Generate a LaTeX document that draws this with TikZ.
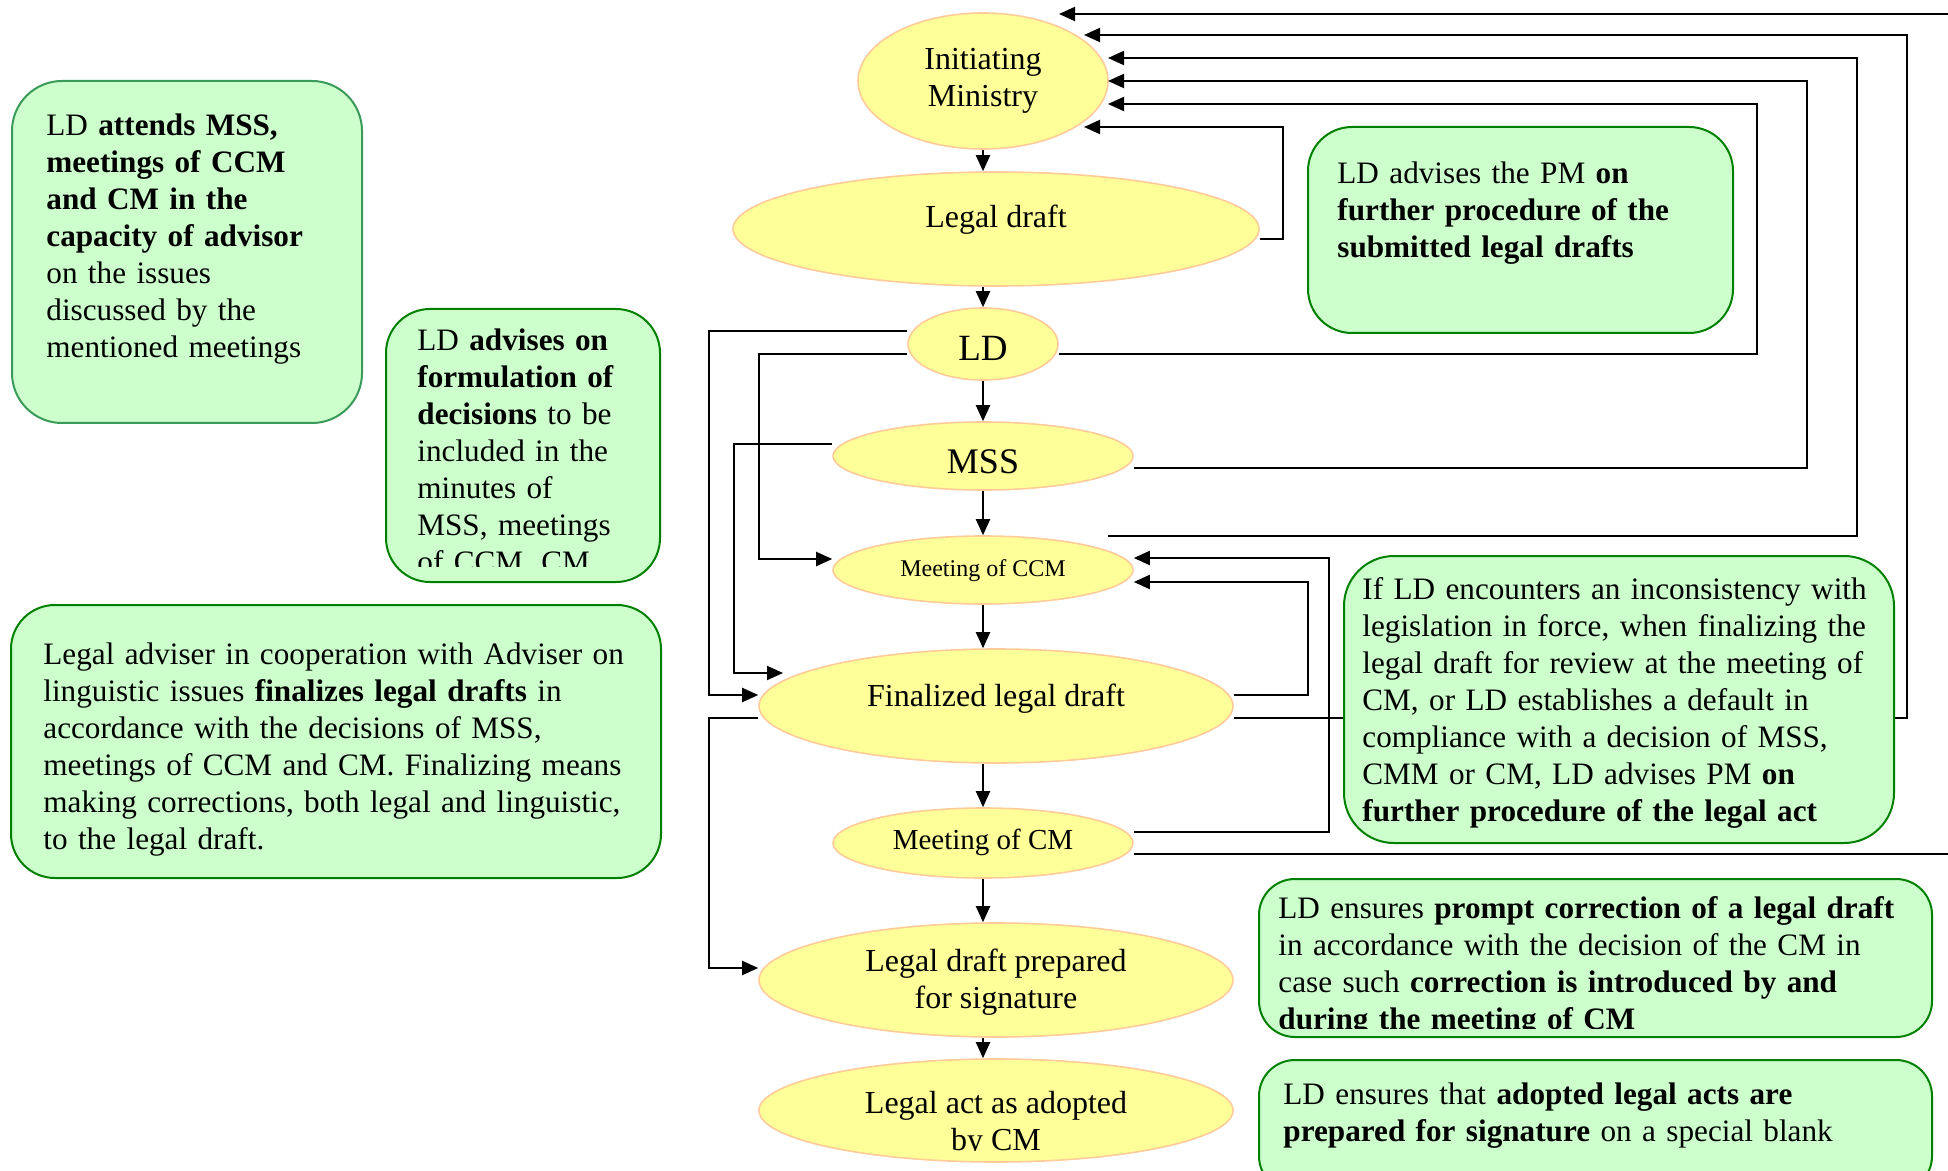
\documentclass[tikz,border=0pt]{standalone}
\usepackage{fontspec}
\setmainfont{Liberation Serif}
\usetikzlibrary{shapes.geometric,arrows.meta}
\definecolor{ellfill}{HTML}{FFFF99}
\definecolor{ellline}{HTML}{FFCC99}
\definecolor{notefill}{HTML}{CCFFCC}
\definecolor{noteline}{HTML}{008000}
\definecolor{notelinetwo}{HTML}{3A9A5A}
\newcommand\notefont{\fontsize{15.6}{18.5}\selectfont}
\newcommand\ellfont{\fontsize{16}{18.5}\selectfont}
\tikzset{
  ell/.style={ellipse, draw=ellline, fill=ellfill, line width=0.8pt, inner sep=0pt},
  elltxt/.style={inner sep=0pt, align=center, font=\ellfont},
  note/.style={draw=noteline, fill=notefill, line width=1pt, inner sep=0pt, anchor=north west},
  txt/.style={anchor=north west, inner sep=0pt, text width=345pt, align=left, font=\notefont},
  conn/.style={line width=1pt, black},
  arr/.style={conn, -{Triangle[length=8pt,width=7pt]}},
}
\begin{document}
\begin{tikzpicture}[x=0.5pt, y=-0.5pt]
\useasboundingbox (0,0) rectangle (1948,1171);
\clip (0,0) rectangle (1948,1171);

% ---------- flow ellipses ----------
\node[ell, minimum width=125pt, minimum height=68pt] (im) at (983,81) {};
\node[elltxt] (imtxt) at (983,81) {Initiating\\Ministry};
\node[ell, minimum width=263pt, minimum height=57pt] (lgd) at (996,229) {};
\node[elltxt] (lgdtxt) at (996,220) {Legal draft};
\node[ell, minimum width=75pt, minimum height=36pt] (ld) at (983,344) {};
\node[elltxt, font=\fontsize{18.5}{20}\selectfont] (ldtxt) at (983,348) {LD};
\node[ell, minimum width=150pt, minimum height=34pt] (mss) at (983,456) {};
\node[elltxt, font=\fontsize{18}{20}\selectfont] (msstxt) at (983,462) {MSS};
\node[ell, minimum width=150pt, minimum height=34pt] (ccm) at (983,570) {};
\node[elltxt, font=\fontsize{12}{14}\selectfont] (ccmtxt) at (983,571) {Meeting of CCM};
\node[ell, minimum width=237pt, minimum height=57pt] (fin) at (996,706) {};
\node[elltxt] (fintxt) at (996,698.5) {Finalized legal draft};
\node[ell, minimum width=150pt, minimum height=35pt] (cm) at (983,843) {};
\node[elltxt, font=\fontsize{14.5}{16}\selectfont] (cmtxt) at (983,842) {Meeting of CM};
\node[ell, minimum width=237pt, minimum height=57pt] (prep) at (996,980) {};
\node[elltxt] (preptxt) at (996,982.5) {Legal draft prepared\\for signature};
\node[ell, minimum width=237pt, minimum height=51.5pt] (act) at (996,1110.5) {};
\begin{scope}
  \clip (700,1058) rectangle (1300,1150);
  \node[elltxt] (acttxt) at (996,1124) {Legal act as adopted\\by CM};
\end{scope}

% ---------- vertical flow ----------
\draw[arr] (im) -- (lgd.north -| im);
\draw[arr] (lgd.south -| ld) -- (ld);
\draw[arr] (ld) -- (mss);
\draw[arr] (mss) -- (ccm);
\draw[arr] (ccm) -- (fin.north -| ccm);
\draw[arr] (fin.south -| cm) -- (cm);
\draw[arr] (cm) -- (prep.north -| cm);
\draw[arr] (prep.south -| cm) -- (act.north -| cm);

% ---------- feedback to Initiating Ministry ----------
\coordinate (e1) at (1948,14);
\coordinate (h1) at (1059,14);
\coordinate (h2) at (1084,35);
\coordinate (h3) at (1108,58);
\coordinate (h4) at (1108,81);
\coordinate (h5) at (1108,104);
\coordinate (h6) at (1084,127);
\coordinate (s3) at (1108,536);
\coordinate (e2) at (1948,854);
\coordinate (h7) at (783,673);

\draw[arr] (e1) -- (h1);
\draw[arr] (fin.east |- 0,718) -| (1907,35) -- (h2);
\draw[arr] (s3) -| (1857,58) -- (h3);
\draw[arr] (mss.east |- 0,468) -| (1807,81) -- (h4);
\draw[arr] (ld.east |- 0,354) -| (1757,104) -- (h5);
\draw[arr] (lgd.east |- 0,239) -| (1283,127) -- (h6);

% ---------- left-side loops ----------
\draw[arr] (ld.west |- 0,331) -| (709,695) -- (fin.west |- 0,695);
\draw[arr] (ld.west |- 0,354) -| (759,559) -- (ccm.west |- 0,559);
\draw[arr] (mss.west |- 0,444) -| (734,673) -- (h7);
\draw[arr] (fin.west |- 0,718) -| (709,968) -- (prep.west |- 0,968);

% ---------- right-side loops ----------
\draw[arr] (cm.east |- 0,832) -| (1329,558) -- (ccm.east |- 0,558);
\draw[arr] (fin.east |- 0,695) -| (1308,582) -- (ccm.east |- 0,582);
\draw[conn] (cm.east |- 0,854) -- (e2);

% ---------- notes ----------
\node[note, draw=notelinetwo, rounded corners=25pt, minimum width=175pt, minimum height=171pt] (b1) at (11,80) {};
\node[txt] (t1) at (46,109.6) {\strut LD \textbf{attends MSS,}\\\textbf{meetings of CCM}\\\textbf{and CM in the}\\\textbf{capacity of advisor}\\on the issues\\discussed by the\\mentioned meetings};

\node[note, rounded corners=22pt, minimum width=137pt, minimum height=136.5pt] (b2) at (385,308) {};
\begin{scope}
  \clip (385,308) rectangle (659,566);
  \node[txt] (t2) at (417,324.1) {\strut LD \textbf{advises on}\\\textbf{formulation of}\\\textbf{decisions} to be\\included in the\\minutes of\\MSS, meetings\\of CCM, CM};
\end{scope}

\node[note, rounded corners=22pt, minimum width=325pt, minimum height=136.5pt] (b3) at (10,604) {};
\node[txt] (t3) at (43,638.1) {\strut Legal adviser in cooperation with Adviser on\\linguistic issues \textbf{finalizes legal drafts} in\\accordance with the decisions of MSS,\\meetings of CCM and CM. Finalizing means\\making corrections, both legal and linguistic,\\to the legal draft.};

\node[note, rounded corners=22pt, minimum width=212.5pt, minimum height=103pt] (b4) at (1307,126) {};
\node[txt] (t4) at (1337,157.1) {\strut LD advises the PM \textbf{on}\\\textbf{further procedure of the}\\\textbf{submitted legal drafts}};

\node[note, rounded corners=25pt, minimum width=275pt, minimum height=143.5pt] (b5) at (1343,555) {};
\node[txt] (t5) at (1362,573.1) {\strut If LD encounters an inconsistency with\\legislation in force, when finalizing the\\legal draft for review at the meeting of\\CM, or LD establishes a default in\\compliance with a decision of MSS,\\CMM or CM, LD advises PM \textbf{on}\\\textbf{further procedure of the legal act}};

\node[note, rounded corners=18pt, minimum width=336.5pt, minimum height=79pt] (b6) at (1258,878) {};
\begin{scope}
  \clip (1258,878) rectangle (1931,1028);
  \node[txt] (t6) at (1278,892.1) {\strut LD ensures \textbf{prompt correction of a legal draft}\\in accordance with the decision of the CM in\\case such \textbf{correction is introduced by and}\\\textbf{during the meeting of CM}};
\end{scope}

\node[note, rounded corners=18pt, minimum width=336.5pt, minimum height=66pt] (b7) at (1258,1059) {};
\node[txt] (t7) at (1283,1078.1) {\strut LD ensures that \textbf{adopted legal acts are}\\\textbf{prepared for signature} on a special blank};
\end{tikzpicture}
\end{document}
